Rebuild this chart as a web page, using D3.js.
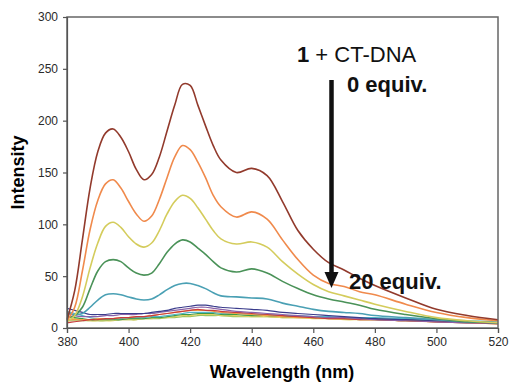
<!DOCTYPE html>
<html>
<head>
<meta charset="utf-8">
<script src="https://cdn.jsdelivr.net/npm/d3@7"></script>
<style>
  body { margin: 0; background: #fff; }
  .axis text { font-family: "Liberation Sans", Arial, sans-serif; font-size: 12px; fill: #2a2a2a; }
  .axis path, .axis line { stroke: #555; stroke-width: 1.2px; }
  .title { font-family: "Liberation Sans", Arial, sans-serif; font-weight: bold; font-size: 18px; }
  .note { font-family: "Liberation Sans", Arial, sans-serif; font-size: 22px; fill: #111; }
</style>
</head>
<body>
<div id="chart-area"></div>
<script>

// wavelength grid (nm)
var wavelengths = [380, 382.5, 385, 387.5, 390, 392.5, 395, 397.5, 400, 402.5, 405, 407.5, 410, 412.5, 415, 417.5,
	420, 422.5, 425, 427.5, 430, 435, 440, 445, 450, 455, 460, 465, 470, 475, 480, 490, 500, 510, 520];

// emission intensity, 0 equiv. down to 20 equiv. of CT-DNA
var eq0  = [8, 36, 85, 135, 170, 188, 192, 184, 170, 153, 143, 148, 165, 190, 215, 235, 234, 215, 195, 176, 162, 150, 154, 147, 122, 94, 76, 63, 56, 48, 41, 29, 18, 12, 8];
var eq1  = [7, 20, 55, 95, 123, 139, 143, 135, 122, 110, 103, 108, 124, 145, 165, 176, 172, 160, 145, 128, 117, 107, 112, 105, 85, 66, 51, 43, 40, 35, 32, 23, 15, 10, 7];
var eq2  = [6, 12, 30, 58, 82, 98, 102, 97, 88, 81, 78, 82, 94, 110, 122, 128, 125, 116, 105, 94, 86, 81, 83, 78, 64, 52, 42, 35, 31, 27, 23, 16, 10, 7, 5];
var eq3  = [10, 12, 20, 38, 55, 64, 66, 64, 58, 53, 51, 53, 62, 73, 81, 85, 83, 77, 71, 64, 58, 54, 57, 53, 45, 38, 32, 28, 25, 22, 18, 13, 9, 6, 5];
var eq4  = [15, 13, 14, 20, 27, 32, 33, 32, 30, 28, 27, 28, 32, 37, 41, 43, 43, 41, 38, 34, 31, 30, 29, 28, 24, 21, 18, 16, 15, 14, 12, 10, 8, 6, 5];
var eq5  = [19, 17, 15, 13, 13, 13, 14, 14, 14, 14, 14, 15, 16, 17, 19, 20, 21, 22, 22, 21, 20, 19, 18, 17, 15, 14, 13, 12, 11, 10, 9, 8, 7, 6, 5];
var eq6  = [14, 12, 11, 11, 11, 12, 12, 13, 13, 13, 14, 14, 15, 16, 17, 18, 19, 20, 20, 19, 18, 16, 15, 14, 13, 12, 11, 10, 10, 9, 8, 7, 6, 5, 5];
var eq7  = [5, 6, 7, 8, 8, 9, 9, 10, 10, 11, 11, 12, 13, 14, 15, 16, 17, 18, 17, 17, 16, 15, 14, 13, 12, 11, 10, 9, 9, 8, 8, 7, 6, 5, 4];
var eq8  = [8, 8, 8, 8, 9, 9, 9, 10, 10, 11, 11, 12, 13, 14, 15, 16, 17, 17, 17, 16, 15, 14, 13, 12, 11, 10, 10, 9, 9, 8, 8, 7, 6, 6, 5];
var eq9  = [16, 14, 12, 10, 9, 9, 9, 9, 10, 10, 10, 11, 11, 12, 13, 14, 15, 15, 15, 15, 14, 14, 13, 13, 12, 12, 11, 11, 10, 10, 10, 9, 8, 7, 6];
var eq10 = [12, 10, 9, 8, 8, 8, 8, 8, 9, 9, 9, 10, 10, 11, 12, 13, 13, 14, 14, 14, 13, 13, 12, 12, 11, 11, 10, 10, 9, 9, 9, 8, 7, 6, 5];
var eq11 = [10, 9, 8, 7, 7, 7, 7, 8, 8, 8, 9, 9, 10, 10, 11, 12, 12, 13, 13, 13, 12, 12, 11, 11, 10, 10, 9, 9, 8, 8, 8, 7, 6, 5, 4];
var eq12 = [7, 7, 7, 7, 7, 7, 8, 8, 8, 8, 9, 9, 9, 10, 10, 11, 11, 12, 12, 12, 12, 11, 11, 11, 10, 10, 10, 9, 9, 8, 8, 7, 7, 6, 5];

var seriesList = [eq12, eq11, eq10, eq9, eq8, eq7, eq6, eq5, eq4, eq3, eq2, eq1, eq0];
var seriesColors = ["#9cc460", "#e2d062", "#3c9a48", "#52b4c8", "#f0a048", "#c83c3c", "#8a62a8", "#3a3c8c",
	"#4aa0b4", "#4a9258", "#d4cc5c", "#f08a4c", "#923a2c"];

var xTicks = [380, 400, 420, 440, 460, 480, 500, 520];
var yTicks = [0, 50, 100, 150, 200, 250, 300];


SpectraVis = function(_parentElement, _series, _colors){
	this.parentElement = _parentElement;
	this.series = _series;
	this.colors = _colors;

	this.initVis();
}

SpectraVis.prototype.initVis = function(){
	var vis = this;

	vis.margin = { top: 17, right: 12, bottom: 55, left: 67 };
	vis.width = 510 - vis.margin.left - vis.margin.right;
	vis.height = 383 - vis.margin.top - vis.margin.bottom;

	vis.root = d3.select("#" + vis.parentElement).append("svg")
			.attr("width", 510)
			.attr("height", 383);

	vis.svg = vis.root.append("g")
			.attr("transform", "translate(" + vis.margin.left + "," + vis.margin.top + ")");

	vis.x = d3.scaleLinear().domain([380, 520]).range([0, vis.width]);
	vis.y = d3.scaleLinear().domain([0, 300]).range([vis.height, 0]);

	vis.xAxis = d3.axisBottom(vis.x).tickValues(xTicks).tickSizeOuter(0).tickSize(5).tickPadding(4);
	vis.yAxis = d3.axisLeft(vis.y).tickValues(yTicks).tickSizeOuter(0).tickSize(4).tickPadding(5);

	vis.line = d3.line()
			.x(function(d) { return vis.x(d.wl); })
			.y(function(d) { return vis.y(d.v); })
			.curve(d3.curveCatmullRom.alpha(0.5));

	vis.wrangleData();
}

SpectraVis.prototype.wrangleData = function(){
	var vis = this;

	vis.displayData = vis.series.map(function(s, i) {
		return {
			color: vis.colors[i],
			main: i >= 8,
			values: s.map(function(v, j) { return { wl: wavelengths[j], v: v }; })
		};
	});

	vis.updateVis();
}

SpectraVis.prototype.updateVis = function(){
	var vis = this;

	vis.svg.selectAll(".spectrum").data(vis.displayData)
		.enter().append("path")
			.attr("class", "spectrum")
			.attr("fill", "none")
			.attr("stroke", function(d) { return d.color; })
			.attr("stroke-width", function(d) { return d.main ? 1.6 : 1.2; })
			.attr("d", function(d) { return vis.line(d.values); });

	// plot frame
	vis.svg.append("rect")
			.attr("width", vis.width)
			.attr("height", vis.height)
			.attr("fill", "none")
			.attr("stroke", "#666")
			.attr("stroke-width", 1.5);

	vis.svg.append("g")
			.attr("class", "x-axis axis")
			.attr("transform", "translate(0," + vis.height + ")")
			.call(vis.xAxis);

	vis.svg.append("g")
			.attr("class", "y-axis axis")
			.call(vis.yAxis);

	vis.root.append("text")
			.attr("class", "title")
			.attr("x", 282)
			.attr("y", 378)
			.attr("text-anchor", "middle")
			.text("Wavelength (nm)");

	vis.root.append("text")
			.attr("class", "title")
			.attr("transform", "translate(24," + (vis.margin.top + vis.height / 2) + ") rotate(-90)")
			.attr("text-anchor", "middle")
			.text("Intensity");

	// annotation: 1 + CT-DNA, arrow from 0 to 20 equiv.
	var label = vis.root.append("text")
			.attr("class", "note")
			.attr("x", 297)
			.attr("y", 62);
	label.append("tspan").attr("font-weight", "bold").text("1");
	label.append("tspan").text(" + CT-DNA");

	vis.root.append("text")
			.attr("class", "note")
			.attr("font-weight", "bold")
			.attr("x", 347)
			.attr("y", 92)
			.text("0 equiv.");

	vis.root.append("text")
			.attr("class", "note")
			.attr("font-weight", "bold")
			.attr("x", 349)
			.attr("y", 289)
			.text("20 equiv.");

	var ax = 331.5;
	vis.root.append("line")
			.attr("x1", ax).attr("x2", ax)
			.attr("y1", 80).attr("y2", 274)
			.attr("stroke", "#111")
			.attr("stroke-width", 4.5);

	vis.root.append("path")
			.attr("d", "M" + (ax - 7) + ",272 L" + (ax + 7) + ",272 L" + ax + ",288 Z")
			.attr("fill", "#111");
}

new SpectraVis("chart-area", seriesList, seriesColors);

</script>
</body>
</html>
